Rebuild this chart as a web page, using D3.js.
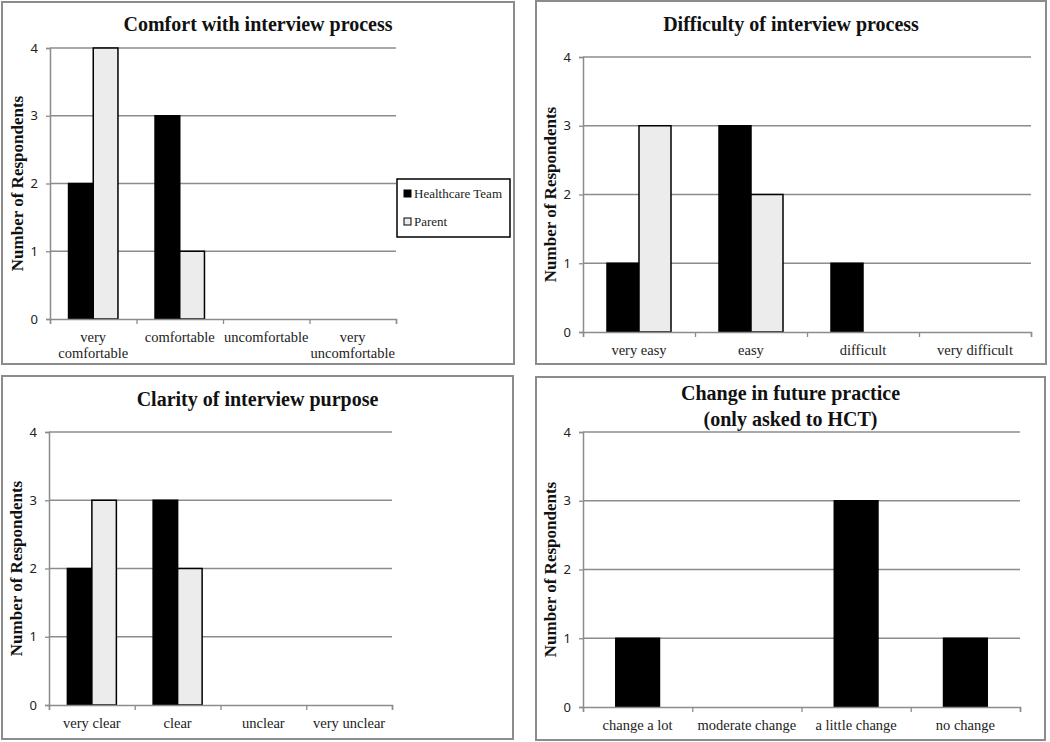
<!DOCTYPE html>
<html>
<head>
<meta charset="utf-8">
<script src="https://cdn.jsdelivr.net/npm/d3@7"></script>
<style>
  body { margin: 0; background: #fff; }
  svg { display: block; }
</style>
</head>
<body>
<script>
// survey answers
let seriesNames = ["Healthcare Team", "Parent"];
let yTicks = [0, 1, 2, 3, 4];

let comfortCats = ["very comfortable", "comfortable", "uncomfortable", "very uncomfortable"];
let comfortHCT = [2, 3, 0, 0];
let comfortParent = [4, 1, 0, 0];

let difficultyCats = ["very easy", "easy", "difficult", "very difficult"];
let difficultyHCT = [1, 3, 1, 0];
let difficultyParent = [3, 2, 0, 0];

let clarityCats = ["very clear", "clear", "unclear", "very unclear"];
let clarityHCT = [2, 3, 0, 0];
let clarityParent = [3, 2, 0, 0];

let changeCats = ["change a lot", "moderate change", "a little change", "no change"];
let changeHCT = [1, 0, 3, 1];

let width = 1050;
let height = 742;

let svg = d3.select("body").append("svg")
  .attr("width", width)
  .attr("height", height);

let fills = ["#000", "#ececec"];
let serif = "'Liberation Serif', 'Times New Roman', serif";

// box = panel frame, plot = inner plot area
let panels = [
  { title: ["Comfort with interview process"], cats: comfortCats, series: [comfortHCT, comfortParent],
    box: [2, 2, 514, 364], plot: [50, 48, 396, 319], titleY: 31, legend: true },
  { title: ["Difficulty of interview process"], cats: difficultyCats, series: [difficultyHCT, difficultyParent],
    box: [536, 1, 1046, 364], plot: [583, 57, 1031, 332], titleY: 31 },
  { title: ["Clarity of interview purpose"], cats: clarityCats, series: [clarityHCT, clarityParent],
    box: [2, 376, 513, 739], plot: [49, 432, 392, 705], titleY: 406 },
  { title: ["Change in future practice", "(only asked to HCT)"], cats: changeCats, series: [changeHCT],
    box: [536, 377, 1045, 740], plot: [583, 432, 1020, 707], titleY: 400 }
];

panels.forEach((p) => {
  let g = svg.append("g");
  let [bx0, by0, bx1, by1] = p.box;
  let [px0, py0, px1, py1] = p.plot;

  g.append("rect")
    .attr("x", bx0).attr("y", by0)
    .attr("width", bx1 - bx0).attr("height", by1 - by0)
    .attr("fill", "#fff")
    .attr("stroke", "#8c8c8c")
    .attr("stroke-width", 2);

  // title lines
  p.title.forEach((t, i) => {
    g.append("text")
      .attr("x", (bx0 + bx1) / 2)
      .attr("y", p.titleY + i * 26)
      .attr("text-anchor", "middle")
      .style("font-family", serif)
      .style("font-weight", "bold")
      .style("font-size", "20px")
      .attr("fill", "#111")
      .text(t);
  });

  let y = d3.scaleLinear().domain([0, 4]).range([py1, py0]);
  let xb = d3.scaleBand().domain(p.cats).range([px0, px1]);
  let xl = d3.scaleLinear().domain([0, p.cats.length]).range([px0, px1]);

  // gridlines
  g.append("g")
    .selectAll("line")
    .data(yTicks.filter((d) => d > 0))
    .join("line")
    .attr("x1", px0).attr("x2", px1)
    .attr("y1", (d) => y(d)).attr("y2", (d) => y(d))
    .attr("stroke", "#8c8c8c")
    .attr("stroke-width", 1.3);

  // y axis
  let ya = g.append("g")
    .attr("transform", `translate(${px0},0)`)
    .call(d3.axisLeft(y).tickValues(yTicks).tickSize(4).tickPadding(8).tickFormat(d3.format("d")));
  ya.select(".domain").attr("stroke", "#8c8c8c").attr("stroke-width", 1.5);
  ya.selectAll(".tick line").attr("stroke", "#8c8c8c").attr("stroke-width", 1.3);
  ya.selectAll(".tick text")
    .style("font-family", "'Noto Sans', 'Liberation Sans', sans-serif")
    .style("font-size", "13px")
    .attr("fill", "#222");

  // bars, Excel style gap width 150%
  let n = p.series.length;
  let bw = xb.bandwidth() / (n + 1.5);
  p.series.forEach((vals, si) => {
    g.append("g")
      .selectAll("rect")
      .data(vals.map((v, i) => ({ cat: p.cats[i], v })).filter((d) => d.v > 0))
      .join("rect")
      .attr("x", (d) => xb(d.cat) + xb.bandwidth() / 2 - (n * bw) / 2 + si * bw)
      .attr("y", (d) => y(d.v))
      .attr("width", bw)
      .attr("height", (d) => y(0) - y(d.v))
      .attr("fill", fills[si])
      .attr("stroke", "#000")
      .attr("stroke-width", 1.5);
  });

  // x axis with ticks on category borders
  let xa = g.append("g")
    .attr("transform", `translate(0,${py1})`)
    .call(d3.axisBottom(xl).ticks(p.cats.length).tickSize(5).tickFormat(""));
  xa.select(".domain").attr("stroke", "#8c8c8c").attr("stroke-width", 1.5);
  xa.selectAll(".tick line").attr("stroke", "#8c8c8c").attr("stroke-width", 1.3);

  // category labels, wrapped when too wide
  p.cats.forEach((c) => {
    let t = g.append("text")
      .attr("x", xb(c) + xb.bandwidth() / 2)
      .attr("y", py1 + 23)
      .attr("text-anchor", "middle")
      .style("font-family", serif)
      .style("font-size", "14.5px")
      .attr("fill", "#222")
      .text(c);
    if (t.node().getComputedTextLength() > xb.bandwidth() - 2) {
      let words = c.split(" ");
      t.text(null);
      t.append("tspan").attr("x", xb(c) + xb.bandwidth() / 2).text(words[0]);
      t.append("tspan").attr("x", xb(c) + xb.bandwidth() / 2).attr("dy", 16).text(words.slice(1).join(" "));
    }
  });

  // y axis title
  g.append("text")
    .attr("transform", `translate(${px0 - 33},${(py0 + py1) / 2}) rotate(-90)`)
    .attr("text-anchor", "middle")
    .attr("dy", "0.35em")
    .style("font-family", serif)
    .style("font-weight", "bold")
    .style("font-size", "17px")
    .attr("fill", "#111")
    .text("Number of Respondents");

  if (p.legend) {
    let lg = g.append("g").attr("transform", "translate(397,179)");
    lg.append("rect")
      .attr("width", 113).attr("height", 58)
      .attr("fill", "#fff")
      .attr("stroke", "#000")
      .attr("stroke-width", 1.5);
    seriesNames.forEach((s, i) => {
      lg.append("rect")
        .attr("x", 7).attr("y", 11 + i * 28)
        .attr("width", 7).attr("height", 7)
        .attr("fill", fills[i])
        .attr("stroke", "#000")
        .attr("stroke-width", 1);
      lg.append("text")
        .attr("x", 17).attr("y", 19 + i * 28)
        .style("font-family", serif)
        .style("font-size", "13px")
        .attr("fill", "#222")
        .text(s);
    });
  }
});
</script>
</body>
</html>
